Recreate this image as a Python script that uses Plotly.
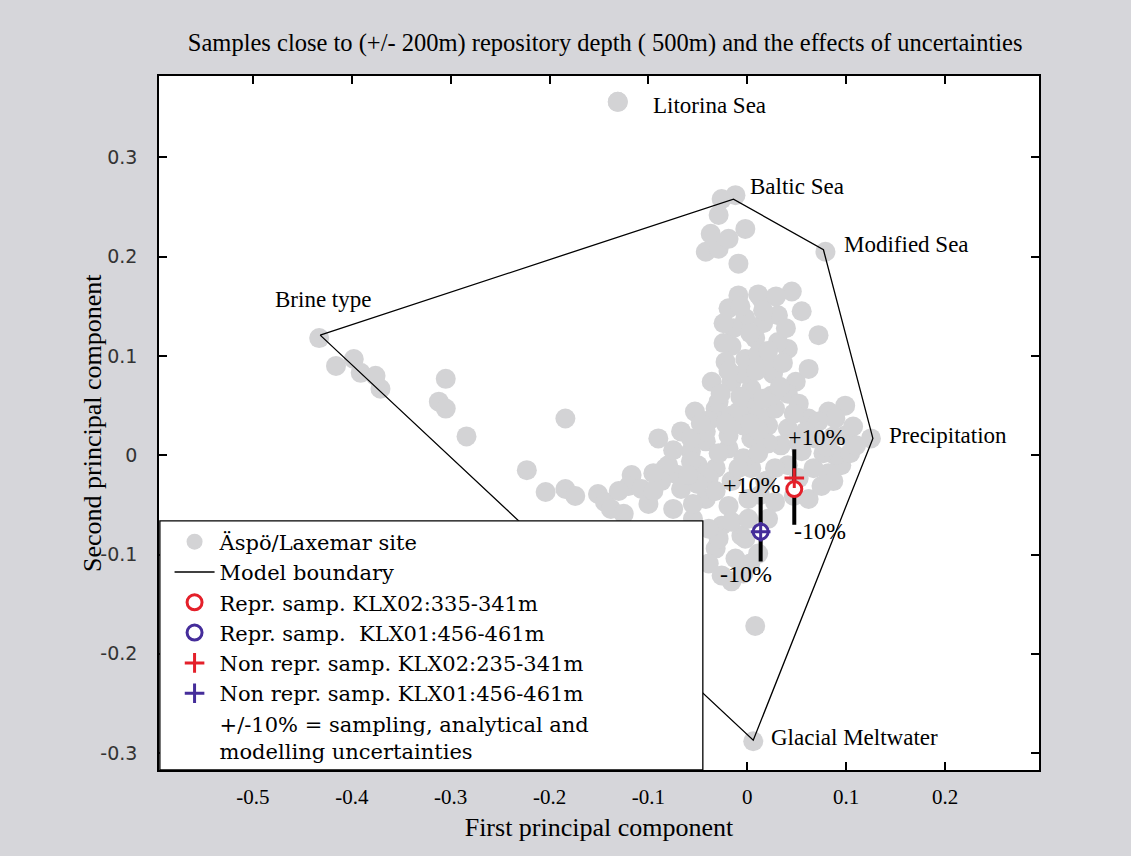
import plotly.graph_objects as go

# Groundwater samples from the Äspö/Laxemar site, scores on the first two principal components
site_pc1 = [
    -0.131, -0.433, -0.416, -0.398, -0.391, -0.376, -0.371, -0.305, -0.312, -0.305,
    -0.284, -0.184, -0.223, -0.204, -0.184, -0.174, -0.151, -0.144, -0.138, -0.117,
    -0.120, -0.107, -0.083, -0.070, -0.057, -0.050, -0.090, -0.067, -0.042, -0.080,
    -0.057, -0.087, -0.067, -0.042, -0.100, -0.075, -0.055, -0.032, -0.016, 0.004,
    0.018, 0.028, -0.019, 0.001, -0.026, -0.006, -0.032, -0.012, -0.026, -0.016,
    -0.029, -0.002, -0.016, 0.008, -0.019, 0.004, 0.021, 0.034, 0.041, 0.055,
    0.069, 0.062, 0.075, 0.095, 0.089, 0.099, 0.099, 0.082, 0.062, 0.089,
    0.072, 0.059, 0.125, 0.104, 0.082, 0.052, 0.067, -0.053, -0.032, -0.016,
    0.001, 0.028, -0.042, -0.019, -0.057, -0.029, -0.009, 0.011, -0.036, -0.016,
    0.004, 0.024, 0.049, 0.062, -0.022, -0.002, 0.018, 0.041, -0.016, 0.008,
    0.031, 0.072, -0.002, 0.031, 0.055, -0.019, -0.009, 0.014, 0.045, -0.009,
    -0.042, -0.029, -0.019, -0.037, -0.002, -0.029, -0.026, -0.012, 0.079, 0.006,
    0.016, -0.004, 0.026, 0.041, 0.016, 0.011, 0.041, 0.021, -0.004, -0.029,
    -0.039, 0.011, 0.028, 0.011, 0.029, 0.016, -0.014, 0.003, 0.039, 0.021,
    0.036, -0.019, -0.027, -0.007, 0.033, 0.052, -0.039, -0.004, 0.011, 0.047,
    0.087, 0.107, 0.077, 0.087, 0.047, -0.032, 0.013, 0.001, 0.011, 0.021,
    -0.004, -0.130, -0.095, -0.055, -0.125, -0.075, -0.024, -0.007, -0.024, 0.009,
    -0.047, -0.022, 0.003, 0.052, 0.080, 0.110, -0.009, -0.050, 0.003, -0.039,
    -0.039, -0.095, -0.060,
]
site_pc2 = [
    0.356, 0.118, 0.090, 0.097, 0.083, 0.080, 0.067, 0.077, 0.054, 0.047,
    0.019, 0.037, -0.015, -0.037, -0.034, -0.041, -0.039, -0.047, -0.054, -0.020,
    -0.031, -0.034, -0.013, -0.020, 0.004, -0.010, 0.017, 0.024, 0.014, -0.010,
    -0.006, -0.026, -0.034, -0.044, -0.049, -0.054, -0.064, -0.013, -0.026, -0.013,
    -0.026, -0.047, -0.051, -0.044, -0.071, -0.081, -0.094, -0.104, -0.121, -0.127,
    -0.084, -0.084, -0.067, -0.172, 0.007, 0.017, 0.030, 0.010, -0.010, 0.004,
    0.017, -0.044, -0.031, -0.010, 0.000, 0.020, 0.050, 0.044, 0.037, 0.037,
    0.034, 0.024, 0.017, 0.002, -0.018, -0.023, -0.013, 0.044, 0.047, 0.040,
    0.050, 0.047, 0.024, 0.020, 0.017, 0.054, 0.044, 0.040, 0.074, 0.074,
    0.067, 0.060, 0.074, 0.087, 0.094, 0.097, 0.094, 0.107, 0.110, 0.118,
    0.114, 0.121, 0.138, 0.141, 0.145, 0.148, 0.161, 0.158, 0.165, 0.193,
    0.205, 0.208, 0.218, 0.223, 0.228, 0.242, 0.258, 0.262, 0.205, -0.288,
    0.133, 0.082, 0.082, 0.062, 0.057, 0.102, 0.027, 0.012, -0.003, 0.002,
    -0.023, 0.002, -0.013, 0.162, 0.160, 0.146, 0.128, 0.123, 0.128, 0.105,
    0.093, 0.085, 0.062, 0.059, 0.069, 0.052, 0.035, 0.030, 0.025, 0.042,
    0.019, 0.029, 0.002, -0.026, -0.041, -0.036, -0.040, -0.064, -0.099, -0.064,
    -0.119, -0.036, -0.018, -0.049, -0.059, 0.005, 0.133, 0.150, 0.113, 0.085,
    0.032, 0.032, 0.032, 0.012, 0.009, 0.010, -0.013, -0.029, -0.109, -0.109,
    -0.074, -0.036, -0.020,
]

# End-member waters spanning the mixing model (vertices of the boundary polygon)
endmember_names = ["Brine type", "Baltic Sea", "Modified Sea", "Precipitation", "Glacial Meltwater"]
endmember_pc1 = [-0.432, -0.014, 0.077, 0.127, 0.006]
endmember_pc2 = [0.121, 0.258, 0.207, 0.017, -0.287]

# Litorina Sea reference water (outside the model boundary)
litorina_name = ["Litorina Sea"]
litorina_pc1 = [-0.131]
litorina_pc2 = [0.356]

# Selected samples near repository depth
repr_klx02_pc1 = [0.0475]
repr_klx02_pc2 = [-0.034]
repr_klx01_pc1 = [0.0135]
repr_klx01_pc2 = [-0.077]
nonrepr_klx02_pc1 = [0.0475]
nonrepr_klx02_pc2 = [-0.023]
nonrepr_klx01_pc1 = [0.0135]
nonrepr_klx01_pc2 = [-0.077]

# +/-10 % uncertainty range on the representative samples
unc_pc1 = [0.0475, 0.0135]
unc_pc2 = [-0.034, -0.077]
unc_plus = [0.040, 0.035]
unc_minus = [0.036, 0.030]
unc_labels_plus = ["+10%", "+10%"]
unc_labels_minus = ["-10%", "-10%"]

# Axis ticks
x_ticks = [-0.5, -0.4, -0.3, -0.2, -0.1, 0.0, 0.1, 0.2]
x_tick_labels = ["-0.5", "-0.4", "-0.3", "-0.2", "-0.1", "0", "0.1", "0.2"]
y_ticks = [-0.3, -0.2, -0.1, 0.0, 0.1, 0.2, 0.3]
y_tick_labels = ["-0.3", "-0.2", "-0.1", "0", "0.1", "0.2", "0.3"]

SERIF = "Liberation Serif, Times New Roman, serif"
WIDE_SERIF = "DejaVu Serif, serif"
GREY = "#d3d3d5"
RED = "#e4202a"
BLUE = "#452d9a"

fig = go.Figure()

fig.add_trace(go.Scatter(
    x=site_pc1 + litorina_pc1, y=site_pc2 + litorina_pc2,
    mode="markers", name="Äspö/Laxemar site",
    marker=dict(size=20, color=GREY, line=dict(width=0)),
    legendrank=1,
))

boundary_x = endmember_pc1 + endmember_pc1[:1]
boundary_y = endmember_pc2 + endmember_pc2[:1]
fig.add_trace(go.Scatter(
    x=boundary_x, y=boundary_y, mode="lines", name="Model boundary",
    line=dict(color="black", width=1.3), legendrank=2,
))

# uncertainty bars (drawn under the sample markers)
fig.add_trace(go.Scatter(
    x=unc_pc1, y=unc_pc2, mode="markers", showlegend=False, hoverinfo="skip",
    marker=dict(size=1, color="rgba(0,0,0,0)"),
    error_y=dict(type="data", symmetric=False, array=unc_plus, arrayminus=unc_minus,
                 color="black", thickness=4, width=0),
))

fig.add_trace(go.Scatter(
    x=repr_klx02_pc1, y=repr_klx02_pc2, mode="markers", name="Repr. samp. KLX02:335-341m",
    marker=dict(symbol="circle", size=15, color="white", line=dict(color=RED, width=3)),
    legendrank=3,
))
fig.add_trace(go.Scatter(
    x=repr_klx01_pc1, y=repr_klx01_pc2, mode="markers", name="Repr. samp.  KLX01:456-461m",
    marker=dict(symbol="circle", size=15, color="white", line=dict(color=BLUE, width=3)),
    legendrank=4,
))
fig.add_trace(go.Scatter(
    x=nonrepr_klx02_pc1, y=nonrepr_klx02_pc2, mode="markers", name="Non repr. samp. KLX02:235-341m",
    marker=dict(symbol="cross-thin", size=14, color=RED, line=dict(color=RED, width=3)),
    legendrank=5,
))
fig.add_trace(go.Scatter(
    x=nonrepr_klx01_pc1, y=nonrepr_klx01_pc2, mode="markers", name="Non repr. samp. KLX01:456-461m",
    marker=dict(symbol="cross-thin", size=14, color=BLUE, line=dict(color=BLUE, width=3)),
    legendrank=6,
))
fig.add_trace(go.Scatter(
    x=[None], y=[None], mode="markers",
    name="+/-10% = sampling, analytical and<br>modelling uncertainties",
    marker=dict(size=1, color="rgba(0,0,0,0)"), legendrank=7,
))

annotations = []
label_offsets = {
    "Brine type": dict(xanchor="center", xshift=3, yshift=36),
    "Baltic Sea": dict(xanchor="left", xshift=15, yshift=13),
    "Modified Sea": dict(xanchor="left", xshift=19, yshift=5),
    "Precipitation": dict(xanchor="left", xshift=14, yshift=3),
    "Glacial Meltwater": dict(xanchor="left", xshift=16, yshift=3),
}
for name, px, py in zip(endmember_names, endmember_pc1, endmember_pc2):
    annotations.append(dict(x=px, y=py, text=name, showarrow=False, yanchor="middle",
                            font=dict(family=SERIF, size=23, color="black"), **label_offsets[name]))
for name, px, py in zip(litorina_name, litorina_pc1, litorina_pc2):
    annotations.append(dict(x=px, y=py, text=name, showarrow=False, xanchor="left", yanchor="middle",
                            xshift=33, yshift=-4, font=dict(family=SERIF, size=23, color="black")))

plus_shift = [23, -9]
minus_shift = [26, -15]
minus_yshift = [-6, -12]
for i in range(len(unc_pc1)):
    annotations.append(dict(x=unc_pc1[i], y=unc_pc2[i] + unc_plus[i], text=unc_labels_plus[i],
                            showarrow=False, xanchor="center", yanchor="middle",
                            xshift=plus_shift[i], yshift=12,
                            font=dict(family=SERIF, size=24, color="black")))
    annotations.append(dict(x=unc_pc1[i], y=unc_pc2[i] - unc_minus[i], text=unc_labels_minus[i],
                            showarrow=False, xanchor="center", yanchor="middle",
                            xshift=minus_shift[i], yshift=minus_yshift[i],
                            font=dict(family=SERIF, size=24, color="black")))

# y-axis title placed beside the tick labels
annotations.append(dict(text="Second principal component", xref="paper", yref="paper",
                        x=-0.0761, y=0.5, xanchor="center", yanchor="middle", textangle=-90,
                        showarrow=False, font=dict(family=SERIF, size=26, color="black")))

fig.update_layout(
    width=1131, height=856,
    margin=dict(l=159, r=92, t=76, b=86, pad=0),
    paper_bgcolor="#d6d6da",
    plot_bgcolor="white",
    title=dict(text="Samples close to (+/- 200m) repository depth ( 500m) and the effects of uncertainties",
               x=0.507, xref="paper", xanchor="center", y=1 - 42 / 856, yref="container", yanchor="middle",
               font=dict(family=SERIF, size=24.5, color="black")),
    annotations=annotations,
    shapes=[dict(type="rect", xref="paper", yref="paper", x0=0.001, x1=0.618, y0=0, y1=0.359,
                 fillcolor="white", line=dict(color="black", width=1.3), layer="above")],
    legend=dict(x=0.012, y=0.358, xanchor="left", yanchor="top", bgcolor="rgba(0,0,0,0)",
                borderwidth=0, itemwidth=40, traceorder="normal",
                font=dict(family=WIDE_SERIF, size=21, color="black")),
    showlegend=True,
)

fig.update_xaxes(
    range=[-0.595, 0.295], tickmode="array", tickvals=x_ticks, ticktext=x_tick_labels,
    ticks="inside", ticklen=8, tickwidth=1.5, tickcolor="black",
    showline=True, linecolor="black", linewidth=1.5, mirror="ticks",
    showgrid=False, zeroline=False, ticklabelstandoff=7,
    tickfont=dict(family=SERIF, size=21, color="black"),
    title=dict(text="First principal component", standoff=10,
               font=dict(family=SERIF, size=26, color="black")),
)
fig.update_yaxes(
    range=[-0.317, 0.382], tickmode="array", tickvals=y_ticks, ticktext=y_tick_labels,
    ticks="inside", ticklen=8, tickwidth=1.5, tickcolor="black",
    showline=True, linecolor="black", linewidth=1.5, mirror="ticks",
    showgrid=False, zeroline=False, ticklabelstandoff=16,
    tickfont=dict(family="DejaVu Sans, Verdana, sans-serif", size=19, color="#333333"),
)

fig.write_html("out.html")
